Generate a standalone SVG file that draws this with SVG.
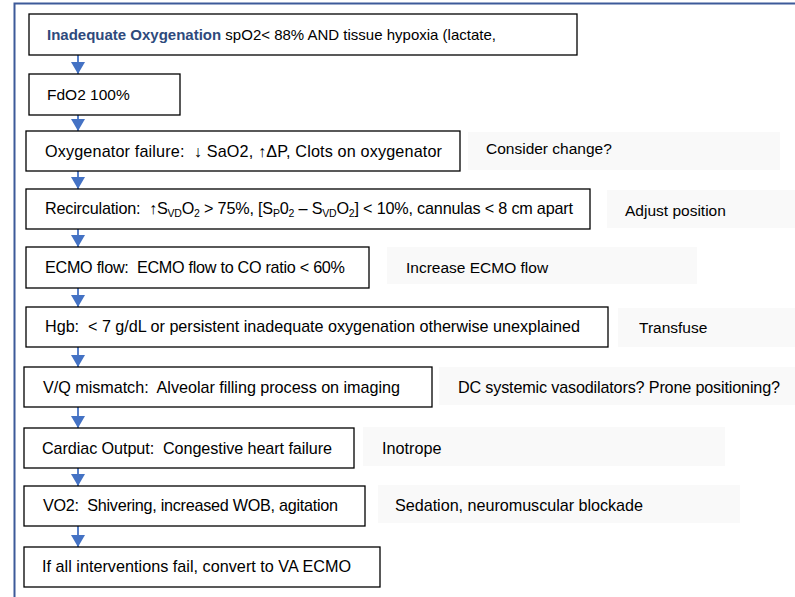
<svg xmlns="http://www.w3.org/2000/svg" width="795" height="597" viewBox="0 0 795 597">
<defs>
<style>
.box{fill:#ffffff;stroke:#000000;stroke-width:1.3}
.side{fill:#f9f9f9;stroke:none}
.t{font-family:"Liberation Sans",Arial,sans-serif;font-size:16.2px;fill:#000000;white-space:pre}
.s{font-size:15.5px}
.b{font-weight:bold;fill:#2e4a7c}
.sub{font-size:10.5px}
.conn{stroke:#4472c4;stroke-width:1.8;fill:none}
</style>
<marker id="ah" markerUnits="userSpaceOnUse" markerWidth="15" markerHeight="15" refX="12" refY="7" orient="auto">
<path d="M0,0 L12,7 L0,14 Z" fill="#4472c4"/>
</marker>
</defs>
<rect x="0" y="0" width="795" height="597" fill="#ffffff"/>
<rect x="14.5" y="3.5" width="800" height="620" fill="none" stroke="#3d5a99" stroke-width="2"/>

<g id="connectors">
<line class="conn" x1="78" y1="55" x2="78" y2="74" marker-end="url(#ah)"/>
<line class="conn" x1="78" y1="115" x2="78" y2="131" marker-end="url(#ah)"/>
<line class="conn" x1="78" y1="171" x2="78" y2="189" marker-end="url(#ah)"/>
<line class="conn" x1="78" y1="229" x2="78" y2="247" marker-end="url(#ah)"/>
<line class="conn" x1="78" y1="288" x2="78" y2="307" marker-end="url(#ah)"/>
<line class="conn" x1="78" y1="347" x2="78" y2="367" marker-end="url(#ah)"/>
<line class="conn" x1="78" y1="407" x2="78" y2="428" marker-end="url(#ah)"/>
<line class="conn" x1="78" y1="468" x2="78" y2="486" marker-end="url(#ah)"/>
<line class="conn" x1="78" y1="526" x2="78" y2="547" marker-end="url(#ah)"/>
</g>

<g id="n1">
<rect class="box" x="29" y="14" width="548" height="41"/>
<text class="t" x="47" y="40" style="font-size:15px"><tspan class="b">Inadequate Oxygenation</tspan> spO2&lt; 88% AND tissue hypoxia (lactate,</text>
</g>
<g id="n2">
<rect class="box" x="29" y="74" width="151" height="41"/>
<text class="t s" x="47" y="100">FdO2 100%</text>
</g>
<g id="n3">
<rect class="box" x="26" y="131" width="434" height="40"/>
<text class="t" x="45" y="157" textLength="397" lengthAdjust="spacing">Oxygenator failure:  ↓ SaO2, ↑ΔP, Clots on oxygenator</text>
</g>
<g id="s3">
<rect class="side" x="468" y="132" width="312" height="38"/>
<text class="t s" x="486" y="154">Consider change?</text>
</g>
<g id="n4">
<rect class="box" x="26" y="189" width="564" height="40"/>
<text class="t" x="45" y="214" textLength="528" lengthAdjust="spacing">Recirculation:  ↑S<tspan class="sub" dy="3">VD</tspan><tspan dy="-3">O</tspan><tspan class="sub" dy="3">2</tspan><tspan dy="-3"> &gt; 75%, [S</tspan><tspan class="sub" dy="3">P</tspan><tspan dy="-3">0</tspan><tspan class="sub" dy="3">2</tspan><tspan dy="-3"> – S</tspan><tspan class="sub" dy="3">VD</tspan><tspan dy="-3">O</tspan><tspan class="sub" dy="3">2</tspan><tspan dy="-3">] &lt; 10%, cannulas &lt; 8 cm apart</tspan></text>
</g>
<g id="s4">
<rect class="side" x="607" y="190" width="188" height="38"/>
<text class="t s" x="625" y="216">Adjust position</text>
</g>
<g id="n5">
<rect class="box" x="26" y="247" width="343" height="41"/>
<text class="t" x="45" y="273" textLength="300" lengthAdjust="spacing">ECMO flow:  ECMO flow to CO ratio &lt; 60%</text>
</g>
<g id="s5">
<rect class="side" x="387" y="247" width="310" height="37"/>
<text class="t s" x="406" y="273">Increase ECMO flow</text>
</g>
<g id="n6">
<rect class="box" x="26" y="307" width="582" height="40"/>
<text class="t" x="45" y="332" textLength="535" lengthAdjust="spacing">Hgb:  &lt; 7 g/dL or persistent inadequate oxygenation otherwise unexplained</text>
</g>
<g id="s6">
<rect class="side" x="618" y="308" width="177" height="39"/>
<text class="t s" x="639" y="333">Transfuse</text>
</g>
<g id="n7">
<rect class="box" x="24" y="367" width="408" height="40"/>
<text class="t" x="43" y="393" textLength="357" lengthAdjust="spacing">V/Q mismatch:  Alveolar filling process on imaging</text>
</g>
<g id="s7">
<rect class="side" x="439" y="367" width="356" height="38"/>
<text class="t" x="458" y="393" textLength="322" lengthAdjust="spacing">DC systemic vasodilators? Prone positioning?</text>
</g>
<g id="n8">
<rect class="box" x="24" y="428" width="330" height="40"/>
<text class="t" x="42" y="454" textLength="290" lengthAdjust="spacing">Cardiac Output:  Congestive heart failure</text>
</g>
<g id="s8">
<rect class="side" x="363" y="427" width="362" height="39"/>
<text class="t" x="382" y="454">Inotrope</text>
</g>
<g id="n9">
<rect class="box" x="24" y="486" width="341" height="40"/>
<text class="t" x="43" y="511" textLength="295" lengthAdjust="spacing">VO2:  Shivering, increased WOB, agitation</text>
</g>
<g id="s9">
<rect class="side" x="378" y="485" width="362" height="38"/>
<text class="t" x="395" y="511" textLength="248" lengthAdjust="spacing">Sedation, neuromuscular blockade</text>
</g>
<g id="n10">
<rect class="box" x="24" y="547" width="356" height="40"/>
<text class="t" x="42" y="572" textLength="309" lengthAdjust="spacing">If all interventions fail, convert to VA ECMO</text>
</g>
</svg>
